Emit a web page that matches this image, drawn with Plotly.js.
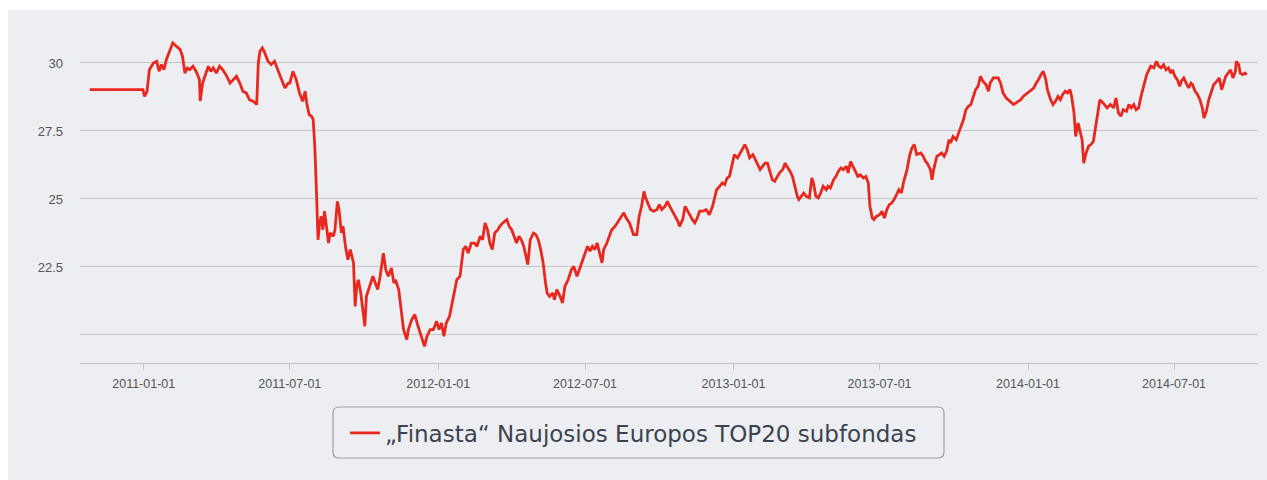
<!DOCTYPE html>
<html>
<head>
<meta charset="utf-8">
<script src="https://cdn.plot.ly/plotly-3.0.1.min.js"></script>
<style>
html,body{margin:0;padding:0;background:#ffffff;}
#chart{width:1267px;height:480px;}
</style>
</head>
<body>
<div id="chart"></div>
<script>
// Days counted from 2011-01-01 for each observation
const dayOffsets = [
-67,-1,1,4,7,12,16,19,22,25,28,32,36,41,45,48,51,54,57,61,65,69,70,73,76,80,83,86,90,94,98,103,107,111,115,119,123,127,131,136,140,142,144,147,150,154,158,162,167,171,175,179,
181,185,189,193,197,200,202,205,208,210,212,214,216,218,220,222,224,227,229,231,235,237,240,242,245,247,250,253,256,260,262,264,266,269,271,274,276,280,284,287,290,293,297,300,303,307,310,312,316,319,322,326,328,332,336,340,344,348,351,355,359,363,366,369,372,375,379,382,385,388,392,396,399,402,406,410,413,417,420,423,426,429,432,435,439,
441,445,450,453,456,459,462,465,468,471,474,476,479,483,486,489,492,495,498,500,503,507,509,512,516,519,522,526,530,533,537,540,543,547,550,553,556,559,562,565,568,570,574,577,580,584,588,592,595,598,602,605,607,611,614,617,620,622,625,628,632,636,639,642,646,649,652,655,659,662,664,668,671,673,677,680,683,686,689,693,697,
701,705,708,710,714,717,720,723,726,730,732,736,739,742,745,748,751,755,758,760,764,767,770,773,776,779,782,785,788,792,795,797,801,804,807,810,812,815,818,821,825,828,830,833,836,839,842,846,848,851,855,858,861,864,867,871,873,876,879,883,885,888,892,895,898,900,903,905,908,912,915,918,921,924,927,930,933,936,939,942,946,949,952,955,958,
963,966,969,971,975,977,979,983,986,989,992,995,998,1000,1003,1007,1010,1013,1016,1019,1022,1025,1028,1031,1034,1037,1040,1044,1047,1049,1053,1056,1059,1062,1065,1069,1071,1074,1078,1081,1084,1087,1090,1093,1096,1099,1103,1106,1109,1112,1115,1118,1120,1124,1127,1130,1133,1136,1139,1142,1145,1148,1150,1153,1155,1158,1160,1163,1165,1168,1171,1174,1177,1179,1182,
1185,1189,1194,1198,1202,1205,1208,1211,1214,1218,1221,1224,1227,1230,1233,1236,1239,1243,1245,1248,1252,1255,1258,1261,1264,1267,1270,1273,1275,1278,1281,1284,1286,1289,1292,1295,1298,1300,1303,1306,1309,1312,1314,1317,1320,1323,1326,1330,1333,1336,1338,1341,1344,1347,1350,1353,1354,1357,1359,1362,1365,1367
];

const navValues = [
29.02,29.02,28.77,28.95,29.75,30.0,30.06,29.7,29.94,29.75,30.12,30.43,30.74,30.6,30.5,30.25,29.63,29.81,29.75,29.88,29.69,29.39,28.6,29.26,29.51,29.88,29.69,29.82,29.63,29.88,29.75,29.51,29.26,29.39,29.51,29.26,28.95,28.9,28.65,28.59,28.47,30.0,30.43,30.55,30.37,30.06,29.94,30.06,29.69,29.39,29.08,29.26,
29.26,29.69,29.39,28.90,28.59,28.96,28.53,28.10,28.04,27.92,26.94,25.34,23.50,24.12,24.36,23.87,24.55,23.87,23.38,23.75,23.63,23.87,24.91,24.61,23.75,24.00,23.26,22.77,23.14,22.65,21.05,21.79,22.03,21.54,21.05,20.32,21.42,21.79,22.16,21.91,21.67,22.16,23.01,22.40,22.16,22.46,21.91,22.03,21.67,20.93,20.20,19.83,20.20,20.56,20.75,20.32,19.95,19.58,19.95,20.20,20.20,20.50,20.20,20.44,19.95,20.44,20.69,21.18,21.54,22.03,22.16,23.14,23.26,23.01,23.38,23.38,23.26,23.63,23.50,24.12,23.87,23.38,23.14,23.75,23.87,
23.99,24.12,24.24,23.99,23.87,23.63,23.38,23.63,23.50,23.26,22.89,22.59,23.50,23.75,23.69,23.50,23.14,22.65,21.91,21.54,21.42,21.54,21.30,21.67,21.42,21.18,21.79,22.03,22.40,22.52,22.16,22.40,22.65,23.01,23.26,23.08,23.26,23.14,23.38,23.01,22.65,23.14,23.38,23.63,23.87,23.99,24.18,24.36,24.49,24.30,24.12,23.87,23.69,23.69,24.36,24.73,25.28,25.04,24.85,24.61,24.55,24.61,24.79,24.61,24.73,24.91,24.73,24.55,24.36,24.18,23.99,24.24,24.73,24.61,24.36,24.24,24.12,24.30,24.55,24.55,24.61,
24.42,24.73,25.16,25.34,25.47,25.59,25.53,25.77,25.83,26.32,26.63,26.51,26.69,26.81,27.0,26.81,26.51,26.63,26.45,26.32,26.08,26.20,26.32,26.32,26.02,25.71,25.65,25.83,25.96,26.08,26.32,26.20,26.02,25.83,25.47,25.10,24.98,25.10,25.22,25.10,25.04,25.77,25.59,25.10,25.04,25.22,25.47,25.34,25.47,25.40,25.71,25.83,26.02,26.14,26.08,26.20,25.96,26.38,26.20,25.96,25.83,25.89,25.77,25.83,25.59,24.73,24.30,24.24,24.36,24.42,24.55,24.30,24.61,24.79,24.85,24.98,25.16,25.34,25.22,25.65,26.08,26.57,26.87,27.0,26.63,
26.69,26.57,26.38,26.32,26.08,25.71,26.08,26.57,26.63,26.69,26.57,26.75,27.18,27.06,27.30,27.18,27.43,27.67,27.92,28.28,28.41,28.47,28.77,29.02,29.14,29.51,29.33,29.20,28.96,29.26,29.45,29.45,29.45,29.26,28.90,28.71,28.65,28.59,28.47,28.53,28.59,28.65,28.77,28.84,28.90,28.96,29.08,29.26,29.39,29.57,29.69,29.39,29.02,28.65,28.47,28.59,28.77,28.65,28.84,28.96,28.90,29.02,28.77,28.16,27.30,27.79,27.55,27.18,26.32,26.69,26.94,27.00,27.12,27.55,28.04,
28.65,28.53,28.35,28.47,28.35,28.71,28.16,28.04,28.28,28.22,28.47,28.35,28.47,28.28,28.35,28.77,29.14,29.57,29.69,29.88,29.82,30.06,29.88,29.82,29.94,29.75,29.82,29.63,29.75,29.51,29.39,29.14,29.33,29.45,29.26,29.08,29.26,29.20,28.96,28.84,28.65,28.35,27.98,28.22,28.65,28.96,29.20,29.33,29.45,29.02,29.26,29.51,29.63,29.75,29.45,29.69,30.06,29.94,29.63,29.57,29.63,29.57
];

const seriesName = '„Finasta“ Naujosios Europos TOP20 subfondas';
const xTickLabels = ['2011-01-01','2011-07-01','2012-01-01','2012-07-01','2013-01-01','2013-07-01','2014-01-01','2014-07-01'];
const yTickValues = [20, 22.5, 25, 27.5, 30];
const yTickLabels = ['', '22.5', '25', '27.5', '30'];

const base = Date.UTC(2011, 0, 1);
const dates = dayOffsets.map(d => new Date(base + d * 864e5).toISOString().slice(0, 10));

// plot-area geometry in pixels (for converting decorative shapes to paper coords)
const W = 1267, H = 480;
const mL = 80, mR = 9, mT = 20, mB = 117;
const pw = W - mL - mR, ph = H - mT - mB;
const px = x => (x - mL) / pw;
const py = y => (H - mB - y) / ph;

function roundRect(x0, y0, x1, y1, r) {
  const a = px(x0), b = px(x1), t = py(y0), u = py(y1);
  const rx = r / pw, ry = r / ph;
  return `M ${a+rx},${t} L ${b-rx},${t} Q ${b},${t} ${b},${t-ry} L ${b},${u+ry} Q ${b},${u} ${b-rx},${u} ` +
         `L ${a+rx},${u} Q ${a},${u} ${a},${u+ry} L ${a},${t-ry} Q ${a},${t} ${a+rx},${t} Z`;
}

const trace = {
  x: dates,
  y: navValues,
  type: 'scatter',
  mode: 'lines',
  name: seriesName,
  line: {color: '#e8281e', width: 2.8},
  hoverinfo: 'x+y'
};

const layout = {
  width: W, height: H,
  margin: {l: mL, r: mR, t: mT, b: mB},
  paper_bgcolor: '#ffffff',
  plot_bgcolor: 'rgba(0,0,0,0)',
  font: {family: 'Liberation Sans, Arial, sans-serif', size: 12, color: '#555'},
  showlegend: true,
  xaxis: {
    type: 'date',
    range: ['2010-10-14', '2014-10-13'],
    tickmode: 'array',
    tickvals: xTickLabels,
    ticktext: xTickLabels,
    showgrid: false,
    zeroline: false,
    showline: true,
    linecolor: '#c4c4c4',
    linewidth: 1,
    ticks: 'outside',
    ticklen: 6,
    tickcolor: '#c4c4c4',
    ticklabelstandoff: 3,
    tickfont: {family: 'Liberation Sans, Arial, sans-serif', size: 12.5, color: '#555'}
  },
  yaxis: {
    range: [18.97, 31.58],
    tickmode: 'array',
    tickvals: yTickValues,
    ticktext: yTickLabels,
    showgrid: true,
    gridcolor: '#c4c4c4',
    gridwidth: 1,
    zeroline: false,
    showline: false,
    ticks: '',
    ticklabelstandoff: 16,
    tickfont: {family: 'Liberation Sans, Arial, sans-serif', size: 13, color: '#555'}
  },
  legend: {
    orientation: 'h',
    x: px(345), xanchor: 'left',
    y: py(433), yanchor: 'middle',
    bgcolor: 'rgba(0,0,0,0)',
    borderwidth: 0,
    font: {family: 'DejaVu Sans, sans-serif', size: 23, color: '#3a4350'}
  },
  shapes: [
    {type: 'rect', xref: 'paper', yref: 'paper', layer: 'below',
     x0: px(8), x1: px(W + 5), y0: py(H + 5), y1: py(10),
     fillcolor: '#eceef2', line: {width: 0}},
    {type: 'path', xref: 'paper', yref: 'paper', layer: 'below',
     path: roundRect(333, 407, 944, 458, 6),
     fillcolor: 'rgba(0,0,0,0)', line: {color: '#9a9ea4', width: 1.2}}
  ]
};

Plotly.newPlot('chart', [trace], layout, {displayModeBar: false, staticPlot: true});
</script>
</body>
</html>
